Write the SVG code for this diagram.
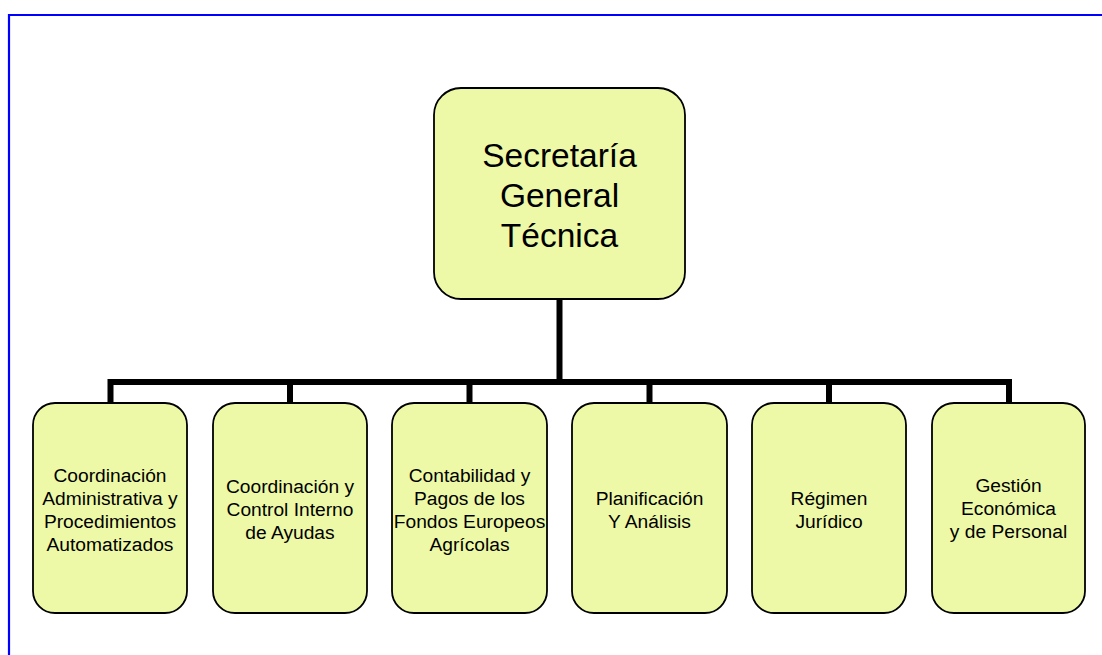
<svg xmlns="http://www.w3.org/2000/svg" width="1102" height="655" viewBox="0 0 1102 655">
<style>
.box{fill:#EDF9A6;stroke:#000;stroke-width:1.8}
.t{font-family:"Liberation Sans",Arial,sans-serif;fill:#000;text-anchor:middle}
.big{font-size:33.5px}
.sm{font-size:19.2px}
.conn{fill:none;stroke:#000;stroke-width:6}
</style>
<rect x="0" y="0" width="1102" height="655" fill="#fff"/>
<polyline points="9,655 9,15 1102,15" fill="none" stroke="#0000FF" stroke-width="2.2"/>
<g id="connectors">
<line class="conn" x1="559.5" y1="300" x2="559.5" y2="382"/>
<polyline class="conn" points="110.5,403 110.5,382 1009,382 1009,403"/>
<line class="conn" x1="290" y1="382" x2="290" y2="403" stroke-width="5"/>
<line class="conn" x1="469.5" y1="382" x2="469.5" y2="403" stroke-width="5"/>
<line class="conn" x1="649.5" y1="382" x2="649.5" y2="403" stroke-width="5"/>
<line class="conn" x1="829" y1="382" x2="829" y2="403" stroke-width="5"/>
</g>
<g id="main">
<rect class="box" x="434" y="88" width="251" height="211" rx="27" ry="27"/>
<text class="t big" x="559.5" y="167">Secretaría</text>
<text class="t big" x="559.5" y="207">General</text>
<text class="t big" x="559.5" y="247">Técnica</text>
</g>
<g id="n1">
<rect class="box" x="33" y="403" width="154" height="210" rx="22" ry="22"/>
<text class="t sm" x="110" y="482">Coordinación</text>
<text class="t sm" x="110" y="505">Administrativa y</text>
<text class="t sm" x="110" y="528">Procedimientos</text>
<text class="t sm" x="110" y="551">Automatizados</text>
</g>
<g id="n2">
<rect class="box" x="213" y="403" width="154" height="210" rx="22" ry="22"/>
<text class="t sm" x="290" y="493">Coordinación y</text>
<text class="t sm" x="290" y="516">Control Interno</text>
<text class="t sm" x="290" y="539">de Ayudas</text>
</g>
<g id="n3">
<rect class="box" x="392" y="403" width="155" height="210" rx="22" ry="22"/>
<text class="t sm" x="469.5" y="482">Contabilidad y</text>
<text class="t sm" x="469.5" y="505">Pagos de los</text>
<text class="t sm" x="469.5" y="528">Fondos Europeos</text>
<text class="t sm" x="469.5" y="551">Agrícolas</text>
</g>
<g id="n4">
<rect class="box" x="572" y="403" width="155" height="210" rx="22" ry="22"/>
<text class="t sm" x="649.5" y="505">Planificación</text>
<text class="t sm" x="649.5" y="528">Y Análisis</text>
</g>
<g id="n5">
<rect class="box" x="752" y="403" width="154" height="210" rx="22" ry="22"/>
<text class="t sm" x="829" y="505">Régimen</text>
<text class="t sm" x="829" y="528">Jurídico</text>
</g>
<g id="n6">
<rect class="box" x="932" y="403" width="153" height="210" rx="22" ry="22"/>
<text class="t sm" x="1008.5" y="492">Gestión</text>
<text class="t sm" x="1008.5" y="515">Económica</text>
<text class="t sm" x="1008.5" y="538">y de Personal</text>
</g>
</svg>
